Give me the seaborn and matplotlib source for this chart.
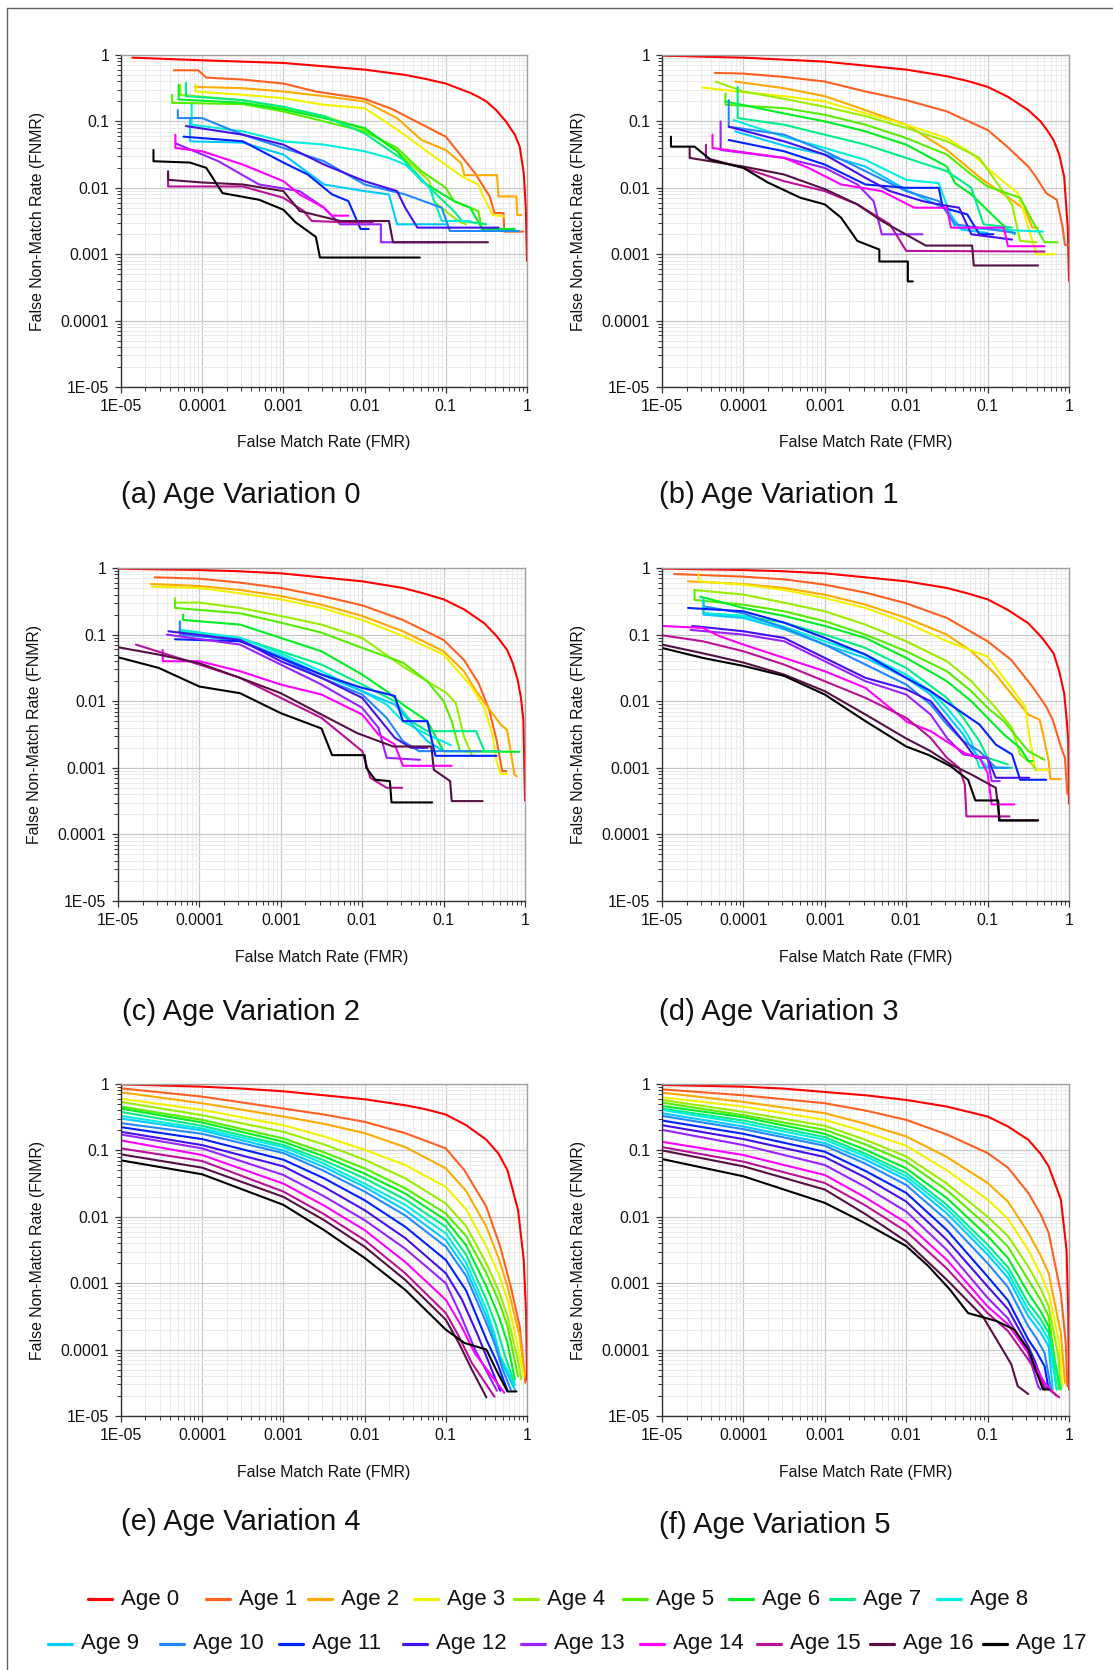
import numpy as np
import pandas as pd
import matplotlib
matplotlib.use("Agg")
import matplotlib.pyplot as plt
from matplotlib.lines import Line2D
from matplotlib.ticker import LogLocator, NullFormatter
import seaborn as sns

# ---------------- data ----------------
AGES = [f"Age {i}" for i in range(18)]
AGE_COLORS = ["#ff0000", "#ff6020", "#ffaa00", "#f2f200", "#99ee00", "#55ee00",
              "#00ee22", "#00ee88", "#00eedd", "#00ccff", "#2288ff", "#0022ff",
              "#4411ee", "#9922ff", "#ff00ff", "#bb1199", "#551144", "#000000"]
CAPTIONS = ["(a) Age Variation 0", "(b) Age Variation 1", "(c) Age Variation 2",
            "(d) Age Variation 3", "(e) Age Variation 4", "(f) Age Variation 5"]
TICK_VALUES = [1e-5, 1e-4, 1e-3, 1e-2, 1e-1, 1]
TICK_LABELS = ["1E-05", "0.0001", "0.001", "0.01", "0.1", "1"]
X_LABEL = "False Match Rate (FMR)"
Y_LABEL = "False Non-Match Rate (FNMR)"

# values are log10(FMR) and log10(FNMR), one list per age (Age 0 .. Age 17)
AV0_LOG_FMR = [
    [-4.86, -4, -3.5, -3, -2.5, -2, -1.5, -1.25, -1, -0.85, -0.7, -0.6, -0.5, -0.38, -0.26, -0.15, -0.09, -0.04, -0.015, 0],
    [-4.35, -4.05, -3.95, -3.5, -3.0, -2.6, -2.0, -1.65, -1.4, -1.0, -0.77, -0.64, -0.46, -0.40, -0.29, -0.28, -0.05],
    [-4.09, -3.5, -3.0, -2.5, -2.0, -1.6, -1.3, -1.0, -0.81, -0.77, -0.37, -0.35, -0.13, -0.12, -0.07],
    [-4.08, -4.08, -3.5, -3.0, -2.5, -2.0, -1.6, -1.2, -0.8, -0.6, -0.55, -0.42, -0.28],
    [-4.27, -4.27, -3.5, -3.0, -2.5, -2.0, -1.6, -1.2, -1.15, -0.85, -0.75],
    [-4.37, -4.37, -3.5, -3.0, -2.5, -2.0, -1.6, -1.3, -1.0, -0.9, -0.6, -0.55, -0.1],
    [-4.29, -4.29, -3.5, -3.0, -2.5, -2.0, -1.6, -1.3, -0.9, -0.7, -0.55, -0.15],
    [-4.2, -4.2, -3.5, -3.0, -2.5, -2.0, -1.5, -1.2, -0.9, -0.8, -0.5],
    [-4.13, -4.13, -3.5, -3.0, -2.5, -2.0, -1.7, -1.5, -1.2, -1.05, -0.7],
    [-4.15, -4.15, -3.5, -3.0, -2.5, -2.0, -1.7, -1.6, -1.0],
    [-4.3, -4.3, -4.0, -3.5, -3.0, -2.5, -2.0, -1.5, -1.05, -0.95, -0.1],
    [-4.23, -3.5, -3.0, -2.7, -2.4, -2.2, -2.05, -1.95],
    [-4.2, -3.5, -3.0, -2.5, -2.0, -1.6, -1.5, -1.35, -0.35],
    [-4.33, -3.8, -3.3, -2.8, -2.5, -2.3, -1.8, -1.8, -1.0],
    [-4.33, -4.33, -4.0, -3.5, -3.0, -2.8, -2.5, -2.4, -2.2],
    [-4.42, -4.42, -3.5, -3.0, -2.75, -2.65, -2.2, -1.9],
    [-4.42, -4.42, -4.0, -3.5, -3.0, -2.8, -2.3, -1.7, -1.65, -0.48],
    [-4.6, -4.6, -4.15, -3.95, -3.75, -3.3, -3.0, -2.85, -2.6, -2.55, -1.32],
]
AV0_LOG_FNMR = [
    [-0.04, -0.08, -0.1, -0.12, -0.17, -0.22, -0.30, -0.36, -0.43, -0.5, -0.57, -0.63, -0.70, -0.83, -1.0, -1.2, -1.38, -1.78, -2.3, -3.1],
    [-0.23, -0.23, -0.34, -0.37, -0.43, -0.55, -0.66, -0.82, -0.98, -1.23, -1.58, -1.78, -2.13, -2.38, -2.38, -2.66, -2.66],
    [-0.48, -0.50, -0.55, -0.62, -0.70, -0.95, -1.28, -1.43, -1.63, -1.81, -1.81, -2.13, -2.13, -2.41, -2.41],
    [-0.45, -0.55, -0.60, -0.65, -0.75, -0.80, -1.12, -1.48, -1.83, -1.95, -2.1, -2.41, -2.43],
    [-0.45, -0.6, -0.68, -0.80, -0.92, -1.12, -1.45, -1.9, -2.2, -2.5, -2.55],
    [-0.6, -0.72, -0.74, -0.85, -1.0, -1.15, -1.4, -1.75, -2.0, -2.2, -2.35, -2.65, -2.65],
    [-0.45, -0.67, -0.72, -0.82, -0.95, -1.1, -1.45, -1.9, -2.2, -2.3, -2.62, -2.62],
    [-0.42, -0.62, -0.68, -0.78, -0.92, -1.18, -1.6, -2.0, -2.35, -2.5, -2.55],
    [-0.75, -1.05, -1.15, -1.3, -1.35, -1.45, -1.55, -1.65, -2.0, -2.5, -2.5],
    [-0.95, -1.3, -1.32, -1.5, -1.95, -2.05, -2.1, -2.55, -2.55],
    [-0.83, -0.95, -0.95, -1.2, -1.4, -1.6, -1.95, -2.1, -2.3, -2.65, -2.65],
    [-1.23, -1.3, -1.62, -1.8, -2.1, -2.2, -2.62, -2.62],
    [-1.07, -1.2, -1.35, -1.65, -1.9, -2.05, -2.3, -2.6, -2.6],
    [-1.33, -1.6, -1.95, -2.05, -2.3, -2.55, -2.55, -2.82, -2.82],
    [-1.2, -1.4, -1.45, -1.65, -1.9, -2.1, -2.3, -2.42, -2.42],
    [-1.8, -1.98, -1.98, -2.15, -2.35, -2.5, -2.52, -2.52],
    [-1.75, -1.88, -1.92, -1.95, -2.05, -2.35, -2.5, -2.5, -2.82, -2.82],
    [-1.43, -1.6, -1.62, -1.7, -2.08, -2.18, -2.33, -2.52, -2.74, -3.05, -3.05],
]

AV1_LOG_FMR = [
    [-5, -4, -3.5, -3, -2.5, -2, -1.5, -1.25, -1, -0.75, -0.5, -0.35, -0.27, -0.19, -0.12, -0.06, -0.015, 0],
    [-4.35, -4.0, -3.5, -3.0, -2.5, -2.0, -1.5, -1.0, -0.76, -0.5, -0.41, -0.28, -0.15, -0.08, -0.05, -0.01],
    [-4.1, -3.5, -3.0, -2.5, -2.0, -1.5, -1.06, -0.76, -0.54, -0.45, -0.38],
    [-4.5, -4.0, -3.5, -3.0, -2.5, -2.0, -1.5, -1.2, -0.93, -0.63, -0.54, -0.4, -0.17],
    [-4.34, -4.0, -3.5, -3.0, -2.5, -2.0, -1.5, -1.1, -0.9, -0.7, -0.6, -0.4],
    [-4.22, -4.22, -3.5, -3.0, -2.5, -2.0, -1.5, -1.2, -1.0, -0.6, -0.45, -0.3, -0.14],
    [-4.22, -3.5, -3.0, -2.5, -2.0, -1.5, -1.4, -1.2, -0.84, -0.67],
    [-4.07, -4.07, -3.5, -3.0, -2.5, -2.0, -1.5, -1.2, -1.05, -0.7],
    [-4.12, -3.5, -3.0, -2.5, -2.0, -1.6, -1.4, -0.32],
    [-4.1, -3.46, -3.0, -2.5, -2.0, -1.5, -1.32, -1.0],
    [-4.18, -4.18, -3.5, -3.0, -2.5, -2.0, -1.6, -1.4, -0.66],
    [-4.18, -3.5, -3.0, -2.5, -2.0, -1.6, -1.55, -1.25, -1.1, -0.93],
    [-4.18, -3.5, -3.0, -2.5, -2.2, -1.8, -1.6, -1.35, -1.2, -0.7],
    [-4.28, -4.28, -3.5, -3.0, -2.6, -2.4, -2.3, -1.8],
    [-4.38, -4.38, -3.5, -3.2, -2.8, -2.3, -1.9, -1.5, -1.45, -0.8, -0.75, -0.3],
    [-4.46, -4.46, -4.0, -3.5, -3.0, -2.6, -2.2, -2.0, -0.3],
    [-4.66, -4.66, -4.0, -3.5, -3.0, -2.6, -2.3, -1.76, -1.19, -1.17, -0.38],
    [-4.89, -4.89, -4.6, -4.4, -4.0, -3.7, -3.3, -3.0, -2.8, -2.6, -2.33, -2.33, -1.98, -1.98, -1.92],
]
AV1_LOG_FNMR = [
    [-0.01, -0.04, -0.07, -0.1, -0.16, -0.22, -0.32, -0.39, -0.48, -0.63, -0.83, -1.0, -1.13, -1.28, -1.5, -1.83, -2.6, -3.4],
    [-0.27, -0.28, -0.33, -0.4, -0.55, -0.68, -0.85, -1.13, -1.38, -1.68, -1.83, -2.08, -2.18, -2.58, -2.86, -2.86],
    [-0.40, -0.50, -0.62, -0.83, -1.05, -1.43, -1.88, -2.13, -2.33, -2.6, -2.6],
    [-0.49, -0.56, -0.62, -0.70, -0.88, -1.05, -1.25, -1.48, -1.78, -2.08, -2.43, -3.0, -3.0],
    [-0.4, -0.55, -0.66, -0.78, -0.92, -1.1, -1.3, -1.55, -1.9, -2.25, -2.8, -2.82],
    [-0.58, -0.75, -0.8, -0.9, -1.05, -1.25, -1.5, -1.8, -1.98, -2.15, -2.5, -2.82, -2.82],
    [-0.7, -0.88, -1.0, -1.15, -1.35, -1.68, -1.93, -2.1, -2.53, -2.7],
    [-0.48, -0.95, -1.05, -1.2, -1.35, -1.55, -1.75, -2.0, -2.55, -2.6],
    [-0.98, -1.23, -1.4, -1.58, -1.88, -1.93, -2.6, -2.66],
    [-1.15, -1.38, -1.5, -1.68, -2.03, -2.33, -2.63, -2.68],
    [-0.68, -1.08, -1.2, -1.45, -1.75, -2.05, -2.2, -2.55, -2.68],
    [-1.28, -1.45, -1.65, -1.95, -2.0, -2.0, -2.3, -2.4, -2.7, -2.7],
    [-1.08, -1.3, -1.5, -1.85, -2.05, -2.2, -2.25, -2.3, -2.7, -2.78],
    [-1.0, -1.43, -1.55, -1.7, -1.95, -2.2, -2.7, -2.7],
    [-1.2, -1.4, -1.55, -1.7, -1.95, -2.05, -2.3, -2.3, -2.6, -2.6, -2.88, -2.88],
    [-1.35, -1.55, -1.7, -1.9, -2.05, -2.25, -2.55, -2.95, -2.96],
    [-1.4, -1.55, -1.68, -1.8, -2.02, -2.25, -2.5, -2.87, -2.87, -3.17, -3.17],
    [-1.23, -1.38, -1.38, -1.58, -1.7, -1.92, -2.15, -2.25, -2.45, -2.8, -2.93, -3.11, -3.11, -3.41, -3.41],
]

AV2_LOG_FMR = [
    [-5, -4, -3.5, -3, -2.5, -2, -1.5, -1.25, -1, -0.75, -0.5, -0.35, -0.22, -0.15, -0.09, -0.05, -0.02, 0],
    [-4.55, -4.0, -3.5, -3.0, -2.5, -2.0, -1.5, -1.0, -0.75, -0.57, -0.44, -0.35, -0.28, -0.23],
    [-4.6, -4.0, -3.5, -3.0, -2.5, -2.0, -1.5, -1.0, -0.75, -0.6, -0.45, -0.3, -0.22, -0.13, -0.1],
    [-4.58, -4.0, -3.5, -3.0, -2.5, -2.0, -1.5, -1.0, -0.66, -0.5, -0.4, -0.35, -0.3, -0.22],
    [-4.3, -4.3, -4.0, -3.5, -3.0, -2.5, -2.0, -1.5, -0.96, -0.85, -0.75, -0.65, -0.6],
    [-4.3, -4.3, -3.5, -3.0, -2.5, -2.0, -1.5, -1.2, -1.0, -0.9, -0.8, -0.33],
    [-4.2, -4.2, -3.5, -3.0, -2.5, -2.0, -1.7, -1.5, -1.2, -1.0, -0.07],
    [-4.25, -3.5, -3.0, -2.5, -2.0, -1.6, -1.4, -1.2, -0.6, -0.5, -0.3],
    [-4.23, -3.5, -3.0, -2.5, -2.0, -1.7, -1.5, -1.2, -0.91],
    [-4.2, -3.5, -3.0, -2.5, -2.0, -1.6, -1.35, -1.2, -1.0, -0.8],
    [-4.24, -4.24, -3.5, -3.0, -2.5, -2.0, -1.7, -1.5, -1.3, -0.55],
    [-4.3, -3.5, -3.0, -2.5, -2.0, -1.6, -1.5, -1.2, -1.1, -0.35],
    [-4.38, -3.5, -3.0, -2.5, -2.0, -1.8, -1.6, -1.4, -1.2],
    [-4.4, -3.5, -3.0, -2.5, -2.0, -1.8, -1.7, -1.29],
    [-4.45, -4.45, -4.0, -3.5, -3.0, -2.5, -2.0, -1.8, -1.6, -1.5, -0.9],
    [-4.78, -4.0, -3.5, -3.0, -2.5, -2.2, -2.0, -1.9, -1.7, -1.51],
    [-5, -4.5, -4.0, -3.5, -3.0, -2.5, -2.06, -1.62, -1.15, -1.12, -0.92, -0.9, -0.52],
    [-5, -4.5, -4.0, -3.5, -3.0, -2.5, -2.37, -1.97, -1.95, -1.84, -1.66, -1.64, -1.14],
]
AV2_LOG_FNMR = [
    [-0.01, -0.03, -0.05, -0.08, -0.14, -0.2, -0.3, -0.38, -0.47, -0.62, -0.83, -1.02, -1.23, -1.43, -1.68, -1.95, -2.28, -3.49],
    [-0.14, -0.16, -0.22, -0.3, -0.42, -0.56, -0.78, -1.08, -1.38, -1.73, -2.13, -2.58, -3.05, -3.05],
    [-0.24, -0.27, -0.33, -0.42, -0.55, -0.72, -0.95, -1.25, -1.55, -1.85, -2.1, -2.35, -2.43, -3.1, -3.13],
    [-0.28, -0.3, -0.38, -0.47, -0.6, -0.78, -1.02, -1.3, -1.78, -2.1, -2.5, -2.9, -3.09, -3.09],
    [-0.45, -0.52, -0.52, -0.6, -0.72, -0.85, -1.05, -1.48, -1.88, -2.03, -2.53, -2.82, -2.82],
    [-0.5, -0.6, -0.68, -0.82, -0.97, -1.2, -1.42, -1.7, -2.0, -2.3, -2.75, -2.75],
    [-0.7, -0.78, -0.85, -1.05, -1.25, -1.6, -1.85, -2.05, -2.3, -2.75, -2.76],
    [-0.95, -1.05, -1.25, -1.45, -1.75, -2.0, -2.3, -2.45, -2.45, -2.75, -2.75],
    [-0.93, -1.05, -1.28, -1.55, -1.85, -2.05, -2.3, -2.5, -2.66],
    [-0.98, -1.1, -1.32, -1.6, -1.85, -2.05, -2.4, -2.6, -2.75, -2.75],
    [-0.8, -1.0, -1.08, -1.35, -1.65, -1.9, -2.25, -2.6, -2.75, -2.75],
    [-1.07, -1.1, -1.35, -1.6, -1.8, -1.92, -2.3, -2.3, -2.82, -2.82],
    [-0.95, -1.08, -1.4, -1.65, -1.95, -2.25, -2.55, -2.7, -2.7],
    [-1.0, -1.15, -1.45, -1.75, -2.1, -2.4, -2.85, -2.88],
    [-1.23, -1.4, -1.4, -1.55, -1.75, -1.9, -2.2, -2.5, -2.65, -2.97, -2.97],
    [-1.15, -1.45, -1.65, -1.95, -2.25, -2.55, -2.75, -3.15, -3.3, -3.3],
    [-1.19, -1.3, -1.43, -1.65, -1.88, -2.2, -2.48, -2.68, -2.68, -3.03, -3.2, -3.5, -3.5],
    [-1.34, -1.5, -1.78, -1.88, -2.18, -2.41, -2.81, -2.81, -3.0, -3.18, -3.2, -3.52, -3.52],
]

AV3_LOG_FMR = [
    [-5, -4, -3.5, -3, -2.5, -2, -1.5, -1.25, -1, -0.75, -0.5, -0.33, -0.19, -0.12, -0.06, -0.03, -0.01, 0],
    [-4.85, -4.0, -3.5, -3.0, -2.5, -2.0, -1.5, -1.0, -0.71, -0.45, -0.28, -0.2, -0.1, -0.05, -0.02],
    [-4.68, -4.0, -3.5, -3.0, -2.5, -2.0, -1.5, -1.2, -0.9, -0.7, -0.5, -0.36, -0.3, -0.25, -0.23, -0.1],
    [-4.55, -4.55, -4.0, -3.5, -3.0, -2.5, -2.0, -1.5, -1.0, -0.67, -0.54, -0.48, -0.41, -0.25],
    [-4.6, -4.0, -3.5, -3.0, -2.5, -2.0, -1.5, -1.2, -0.9, -0.7, -0.6, -0.45, -0.41],
    [-4.6, -4.6, -4.0, -3.5, -3.0, -2.5, -2.0, -1.5, -1.2, -1.0, -0.8, -0.6, -0.5, -0.3],
    [-4.53, -4.0, -3.5, -3.0, -2.5, -2.0, -1.5, -1.2, -1.0, -0.8, -0.6, -0.5, -0.45],
    [-4.49, -4.49, -4.0, -3.5, -3.0, -2.5, -2.0, -1.5, -1.3, -1.1, -1.0, -0.75],
    [-4.47, -4.0, -3.5, -3.0, -2.5, -2.0, -1.7, -1.5, -1.3, -1.2, -1.1, -0.8],
    [-4.49, -4.49, -4.0, -3.5, -3.0, -2.5, -2.0, -1.7, -1.5, -1.3, -1.2, -1.0, -0.7],
    [-4.47, -4.0, -3.5, -3.0, -2.5, -2.0, -1.7, -1.5, -1.3, -1.1, -0.9, -0.75],
    [-4.68, -4.0, -3.5, -3.0, -2.5, -2.0, -1.7, -1.4, -1.1, -0.9, -0.7, -0.6, -0.28],
    [-4.63, -4.0, -3.5, -3.0, -2.5, -2.0, -1.7, -1.5, -1.3, -1.15, -1.0, -0.9, -0.49],
    [-4.65, -4.0, -3.5, -3.0, -2.5, -2.0, -1.7, -1.5, -1.3, -1.0, -0.95, -0.85],
    [-5, -4.5, -4.3, -4.0, -3.5, -3.0, -2.5, -1.99, -1.7, -1.28, -1.1, -1.0, -0.95, -0.67],
    [-5, -4.5, -4.0, -3.5, -3.0, -2.5, -2.0, -1.7, -1.5, -1.35, -1.28, -1.26, -0.73],
    [-5, -4.5, -4.0, -3.5, -3.0, -2.5, -2.0, -1.7, -1.45, -1.2, -0.9, -0.85, -0.38],
    [-5, -4.5, -4.0, -3.5, -3.0, -2.5, -2.0, -1.72, -1.45, -1.24, -1.15, -0.87, -0.86, -0.38],
]
AV3_LOG_FNMR = [
    [-0.01, -0.03, -0.05, -0.08, -0.14, -0.2, -0.3, -0.38, -0.47, -0.63, -0.83, -1.05, -1.28, -1.55, -1.88, -2.25, -2.58, -3.54],
    [-0.09, -0.13, -0.17, -0.25, -0.37, -0.53, -0.75, -1.1, -1.38, -1.78, -2.08, -2.28, -2.68, -2.85, -3.39],
    [-0.2, -0.24, -0.3, -0.4, -0.55, -0.75, -1.0, -1.25, -1.6, -1.9, -2.2, -2.28, -2.6, -2.9, -3.17, -3.17],
    [-0.08, -0.2, -0.25, -0.33, -0.45, -0.6, -0.82, -1.1, -1.33, -1.86, -2.08, -2.58, -3.03, -3.03],
    [-0.33, -0.4, -0.52, -0.65, -0.85, -1.1, -1.4, -1.7, -2.1, -2.4, -2.8, -2.95, -3.03],
    [-0.33, -0.48, -0.55, -0.65, -0.8, -1.0, -1.25, -1.55, -1.85, -2.1, -2.3, -2.6, -2.75, -2.88],
    [-0.43, -0.6, -0.72, -0.87, -1.05, -1.35, -1.7, -2.0, -2.25, -2.5, -2.7, -2.9, -2.9],
    [-0.45, -0.68, -0.72, -0.82, -1.0, -1.2, -1.5, -1.95, -2.25, -2.6, -2.85, -2.95],
    [-0.68, -0.72, -0.88, -1.1, -1.3, -1.6, -1.85, -2.1, -2.4, -2.6, -3.0, -3.0],
    [-0.48, -0.7, -0.75, -0.92, -1.15, -1.35, -1.65, -1.9, -2.2, -2.5, -2.7, -3.0, -3.0],
    [-0.58, -0.68, -0.9, -1.15, -1.45, -1.75, -2.05, -2.35, -2.6, -2.75, -3.0, -3.0],
    [-0.6, -0.65, -0.82, -1.05, -1.3, -1.65, -1.85, -2.1, -2.35, -2.65, -2.8, -3.18, -3.18],
    [-0.87, -0.95, -1.05, -1.35, -1.65, -1.82, -2.0, -2.3, -2.6, -2.85, -2.85, -3.15, -3.15],
    [-0.93, -1.0, -1.1, -1.4, -1.7, -1.9, -2.2, -2.55, -2.8, -2.85, -3.2, -3.2],
    [-0.87, -0.9, -1.02, -1.15, -1.35, -1.55, -1.8, -2.31, -2.45, -2.78, -2.85, -3.08, -3.55, -3.55],
    [-1.01, -1.1, -1.25, -1.45, -1.7, -1.95, -2.25, -2.55, -2.85, -3.0, -3.25, -3.73, -3.73],
    [-1.15, -1.28, -1.42, -1.6, -1.85, -2.2, -2.56, -2.75, -2.95, -3.1, -3.3, -3.79, -3.79],
    [-1.2, -1.35, -1.47, -1.62, -1.9, -2.3, -2.68, -2.81, -2.98, -3.18, -3.49, -3.49, -3.79, -3.79],
]

AV4_LOG_FMR = [
    [-5, -4, -3.5, -3, -2.5, -2, -1.5, -1.25, -1, -0.75, -0.5, -0.35, -0.24, -0.11, -0.04, -0.01, 0],
    [-5, -4, -3, -2.5, -2, -1.5, -1, -0.77, -0.5, -0.33, -0.2, -0.09, -0.02],
    [-5, -4, -3, -2.5, -2, -1.5, -1, -0.75, -0.5, -0.35, -0.24, -0.09, -0.03],
    [-5, -4, -3, -2.5, -2, -1.5, -1, -0.75, -0.5, -0.35, -0.24, -0.11, -0.04],
    [-5, -4, -3, -2.5, -2, -1.5, -1, -0.75, -0.5, -0.35, -0.24, -0.11, -0.07],
    [-5, -4, -3, -2.5, -2, -1.5, -1, -0.75, -0.5, -0.35, -0.24, -0.11],
    [-5, -4, -3, -2.5, -2, -1.5, -1, -0.75, -0.5, -0.35, -0.24, -0.15],
    [-5, -4, -3, -2.5, -2, -1.5, -1, -0.75, -0.5, -0.38, -0.28, -0.15],
    [-5, -4, -3, -2.5, -2, -1.5, -1, -0.75, -0.5, -0.4, -0.33, -0.15],
    [-5, -4, -3, -2.5, -2, -1.5, -1, -0.75, -0.5, -0.4, -0.33, -0.15],
    [-5, -4, -3, -2.5, -2, -1.5, -1, -0.75, -0.5, -0.4, -0.3, -0.2],
    [-5, -4, -3, -2.5, -2, -1.5, -1, -0.75, -0.5, -0.37, -0.24],
    [-5, -4, -3, -2.5, -2, -1.5, -1, -0.8, -0.6, -0.33],
    [-5, -4, -3, -2.5, -2, -1.5, -1, -0.82, -0.64, -0.37],
    [-5, -4, -3, -2.5, -2, -1.5, -1, -0.82, -0.64, -0.28],
    [-5, -4, -3, -2.5, -2, -1.5, -1, -0.84, -0.68, -0.4],
    [-5, -4, -3, -2.5, -2, -1.5, -1, -0.84, -0.68, -0.5],
    [-5, -4, -3, -2.5, -2, -1.5, -1, -0.77, -0.5, -0.37, -0.24, -0.13],
]
AV4_LOG_FNMR = [
    [-0.005, -0.04, -0.07, -0.11, -0.17, -0.23, -0.32, -0.38, -0.46, -0.62, -0.84, -1.05, -1.3, -1.9, -2.65, -3.5, -4.46],
    [-0.065, -0.19, -0.37, -0.46, -0.57, -0.74, -0.97, -1.3, -1.85, -2.45, -3.05, -3.65, -4.5],
    [-0.125, -0.29, -0.49, -0.6, -0.74, -0.95, -1.27, -1.61, -2.15, -2.62, -3.05, -3.8, -4.36],
    [-0.22, -0.39, -0.62, -0.79, -0.99, -1.22, -1.55, -1.89, -2.45, -2.86, -3.25, -3.96, -4.41],
    [-0.27, -0.47, -0.72, -0.91, -1.14, -1.42, -1.8, -2.14, -2.7, -3.11, -3.5, -4.16, -4.45],
    [-0.34, -0.54, -0.82, -1.03, -1.27, -1.57, -1.95, -2.29, -2.85, -3.26, -3.65, -4.4],
    [-0.37, -0.58, -0.87, -1.09, -1.35, -1.65, -2.05, -2.43, -3.05, -3.49, -3.9, -4.45],
    [-0.42, -0.63, -0.92, -1.15, -1.42, -1.74, -2.15, -2.57, -3.25, -3.64, -4.06, -4.53],
    [-0.48, -0.67, -0.95, -1.2, -1.5, -1.82, -2.25, -2.69, -3.4, -3.77, -4.1, -4.53],
    [-0.52, -0.7, -1.0, -1.25, -1.55, -1.9, -2.35, -2.79, -3.5, -3.84, -4.15, -4.6],
    [-0.59, -0.75, -1.04, -1.31, -1.62, -1.98, -2.45, -2.89, -3.6, -3.91, -4.3, -4.6],
    [-0.65, -0.83, -1.14, -1.42, -1.75, -2.15, -2.65, -3.11, -3.85, -4.19, -4.62],
    [-0.72, -0.92, -1.24, -1.55, -1.9, -2.32, -2.85, -3.25, -3.8, -4.62],
    [-0.76, -0.97, -1.37, -1.69, -2.05, -2.48, -3.0, -3.47, -4.0, -4.62],
    [-0.85, -1.07, -1.5, -1.83, -2.2, -2.68, -3.25, -3.62, -4.06, -4.65],
    [-0.97, -1.16, -1.62, -1.96, -2.35, -2.85, -3.45, -3.8, -4.2, -4.71],
    [-1.06, -1.26, -1.7, -2.05, -2.45, -2.95, -3.55, -3.9, -4.3, -4.72],
    [-1.15, -1.36, -1.82, -2.2, -2.62, -3.1, -3.7, -3.9, -4.0, -4.33, -4.63, -4.63],
]

AV5_LOG_FMR = [
    [-5, -4, -3.5, -3, -2.5, -2, -1.5, -1, -0.75, -0.5, -0.35, -0.25, -0.1, -0.03, -0.01, 0],
    [-5, -4, -3, -2.5, -2, -1.5, -1, -0.75, -0.5, -0.35, -0.25, -0.1, -0.04, -0.02],
    [-5, -4, -3, -2.5, -2, -1.5, -1, -0.75, -0.5, -0.35, -0.25, -0.1, -0.05],
    [-5, -4, -3, -2.5, -2, -1.5, -1, -0.75, -0.5, -0.35, -0.25, -0.12, -0.08],
    [-5, -4, -3, -2.5, -2, -1.5, -1, -0.75, -0.5, -0.35, -0.25, -0.13, -0.1],
    [-5, -4, -3, -2.5, -2, -1.5, -1, -0.75, -0.5, -0.35, -0.25, -0.12],
    [-5, -4, -3, -2.5, -2, -1.5, -1, -0.75, -0.5, -0.35, -0.25, -0.15],
    [-5, -4, -3, -2.5, -2, -1.5, -1, -0.75, -0.5, -0.35, -0.25, -0.1],
    [-5, -4, -3, -2.5, -2, -1.5, -1, -0.75, -0.5, -0.35, -0.25, -0.15],
    [-5, -4, -3, -2.5, -2, -1.5, -1, -0.75, -0.5, -0.35, -0.25, -0.2],
    [-5, -4, -3, -2.5, -2, -1.5, -1, -0.75, -0.5, -0.4, -0.3, -0.22],
    [-5, -4, -3, -2.5, -2, -1.5, -1, -0.75, -0.5, -0.4, -0.3, -0.25],
    [-5, -4, -3, -2.5, -2, -1.5, -1, -0.75, -0.5, -0.42, -0.35, -0.3],
    [-5, -4, -3, -2.5, -2, -1.5, -1, -0.75, -0.5, -0.38, -0.35],
    [-5, -4, -3, -2.5, -2, -1.5, -1, -0.75, -0.5, -0.3, -0.15],
    [-5, -4, -3, -2.5, -2, -1.5, -1, -0.75, -0.5, -0.3, -0.12],
    [-5, -4, -3, -2.5, -2, -1.5, -1.06, -0.84, -0.71, -0.63, -0.5],
    [-5, -4, -3, -2.5, -2, -1.73, -1.46, -1.24, -0.89, -0.67, -0.5, -0.32, -0.25],
]
AV5_LOG_FNMR = [
    [-0.015, -0.04, -0.07, -0.12, -0.17, -0.24, -0.34, -0.49, -0.64, -0.84, -1.05, -1.24, -1.74, -2.5, -3.4, -4.6],
    [-0.08, -0.17, -0.29, -0.4, -0.54, -0.76, -1.04, -1.26, -1.64, -1.96, -2.24, -3.15, -3.9, -4.55],
    [-0.13, -0.27, -0.44, -0.6, -0.79, -1.1, -1.49, -1.77, -2.24, -2.58, -2.85, -3.75, -4.5],
    [-0.2, -0.34, -0.54, -0.72, -0.93, -1.3, -1.74, -2.03, -2.5, -2.86, -3.15, -3.9, -4.55],
    [-0.24, -0.42, -0.63, -0.84, -1.09, -1.5, -2.0, -2.29, -2.75, -3.08, -3.35, -4.1, -4.6],
    [-0.28, -0.47, -0.69, -0.91, -1.17, -1.6, -2.14, -2.45, -2.95, -3.25, -3.5, -4.6],
    [-0.33, -0.5, -0.75, -0.99, -1.27, -1.72, -2.29, -2.62, -3.15, -3.42, -3.65, -4.6],
    [-0.37, -0.55, -0.8, -1.05, -1.34, -1.82, -2.42, -2.76, -3.3, -3.54, -3.75, -4.6],
    [-0.39, -0.59, -0.84, -1.09, -1.39, -1.88, -2.5, -2.84, -3.4, -3.64, -3.85, -4.6],
    [-0.44, -0.64, -0.89, -1.14, -1.44, -1.95, -2.57, -2.92, -3.5, -3.74, -3.95, -4.6],
    [-0.48, -0.68, -0.93, -1.2, -1.52, -2.05, -2.7, -3.06, -3.65, -3.83, -4.05, -4.6],
    [-0.55, -0.75, -1.02, -1.31, -1.64, -2.2, -2.9, -3.26, -3.85, -4.03, -4.25, -4.6],
    [-0.62, -0.83, -1.1, -1.41, -1.77, -2.35, -3.05, -3.39, -3.95, -4.17, -4.4, -4.6],
    [-0.69, -0.92, -1.22, -1.55, -1.92, -2.5, -3.22, -3.53, -4.05, -4.55, -4.6],
    [-0.87, -1.07, -1.37, -1.71, -2.09, -2.65, -3.35, -3.62, -4.05, -4.5, -4.7],
    [-0.95, -1.17, -1.49, -1.83, -2.22, -2.78, -3.45, -3.72, -4.15, -4.55, -4.72],
    [-1.0, -1.24, -1.59, -1.96, -2.37, -2.95, -3.5, -3.95, -4.22, -4.55, -4.67],
    [-1.13, -1.39, -1.79, -2.1, -2.44, -2.74, -3.1, -3.45, -3.57, -3.7, -4.0, -4.6, -4.6],
]

PANELS = [(AV0_LOG_FMR, AV0_LOG_FNMR), (AV1_LOG_FMR, AV1_LOG_FNMR),
          (AV2_LOG_FMR, AV2_LOG_FNMR), (AV3_LOG_FMR, AV3_LOG_FNMR),
          (AV4_LOG_FMR, AV4_LOG_FNMR), (AV5_LOG_FMR, AV5_LOG_FNMR)]

# ---------------- layout (pixels) ----------------
W, H = 1113, 1670
AX_BOXES = [(121, 55, 527, 387), (662, 55, 1069, 387),
            (118, 568, 525, 901), (662, 568, 1069, 901),
            (121, 1084, 527, 1416), (662, 1084, 1069, 1416)]
CAPTION_POS = [(121, 495), (659, 495), (122, 1012), (659, 1012), (121, 1522), (659, 1525)]
LEGEND_ROWS_Y = [1599, 1644]
LEGEND_X = [[88, 206, 308, 414, 514, 623, 729, 830, 937],
            [48, 160, 279, 403, 521, 640, 757, 870, 983]]

sns.set_theme(style="white")
plt.rcParams["font.family"] = ["Liberation Sans", "DejaVu Sans"]

fig = plt.figure(figsize=(W / 100, H / 100), dpi=100)


def panel_frame(log_fmr, log_fnmr):
    rows = []
    for age, xs, ys in zip(AGES, log_fmr, log_fnmr):
        for k, (lx, ly) in enumerate(zip(xs, ys)):
            rows.append((age, k, 10.0 ** lx, 10.0 ** ly))
    return pd.DataFrame(rows, columns=["age", "step", "fmr", "fnmr"])


for i, ((lfmr, lfnmr), (x0, y0, x1, y1)) in enumerate(zip(PANELS, AX_BOXES)):
    ax = fig.add_axes([x0 / W, 1 - y1 / H, (x1 - x0) / W, (y1 - y0) / H])
    ax.set_xscale("log")
    ax.set_yscale("log")
    df = panel_frame(lfmr, lfnmr)
    sns.lineplot(data=df, x="fmr", y="fnmr", hue="age", hue_order=AGES,
                 palette=AGE_COLORS, estimator=None, sort=False, legend=False,
                 linewidth=1.5, ax=ax)
    ax.set_xlim(1e-5, 1)
    ax.set_ylim(1e-5, 1)
    ax.set_xticks(TICK_VALUES, TICK_LABELS)
    ax.set_yticks(TICK_VALUES, TICK_LABELS)
    for axis in (ax.xaxis, ax.yaxis):
        axis.set_minor_locator(LogLocator(base=10, subs=np.arange(2, 10)))
        axis.set_minor_formatter(NullFormatter())
    ax.set_axisbelow(True)
    ax.grid(which="major", color="#c8c8c8", linewidth=0.9)
    ax.grid(which="minor", color="#ebebeb", linewidth=0.7)
    ax.tick_params(which="both", direction="out", top=False, right=False,
                   bottom=True, left=True, color="#333333", labelsize=11.3,
                   labelcolor="#111111", pad=4)
    ax.tick_params(which="major", length=4.5, width=0.9)
    ax.tick_params(which="minor", length=2.6, width=0.7)
    for side in ("left", "bottom"):
        ax.spines[side].set_color("#333333")
        ax.spines[side].set_linewidth(1.0)
    for side in ("top", "right"):
        ax.spines[side].set_color("#a0a0a0")
        ax.spines[side].set_linewidth(1.0)
    ax.set_xlabel(X_LABEL, fontsize=11.4, va="center", color="#111111")
    ax.set_ylabel(Y_LABEL, fontsize=11.4, va="center", color="#111111")
    ax.xaxis.set_label_coords(0.5, -56 / (y1 - y0))
    ax.yaxis.set_label_coords(-83 / (x1 - x0), 0.5)
    cx, cy = CAPTION_POS[i]
    fig.text(cx / W, 1 - cy / H, CAPTIONS[i], fontsize=21, ha="left",
             va="center", color="#111111")

# legend rows built from the age list and colours
for r, y in enumerate(LEGEND_ROWS_Y):
    for j, lx in enumerate(LEGEND_X[r]):
        k = r * 9 + j
        fy = 1 - y / H
        fig.add_artist(Line2D([lx / W, (lx + 24) / W], [fy, fy],
                              color=AGE_COLORS[k], linewidth=2.3,
                              transform=fig.transFigure))
        fig.text((lx + 33) / W, fy, AGES[k], fontsize=16, ha="left",
                 va="center", family=["Liberation Sans", "DejaVu Sans"],
                 color="#111111")

# thin frame lines (left and top) around the figure
fig.add_artist(Line2D([7 / W, 7 / W], [0, 1 - 8 / H], color="#606060",
                      linewidth=1.0, transform=fig.transFigure))
fig.add_artist(Line2D([7 / W, 1], [1 - 8 / H, 1 - 8 / H], color="#606060",
                      linewidth=1.0, transform=fig.transFigure))

fig.savefig("out.png", dpi=100, facecolor="white")
